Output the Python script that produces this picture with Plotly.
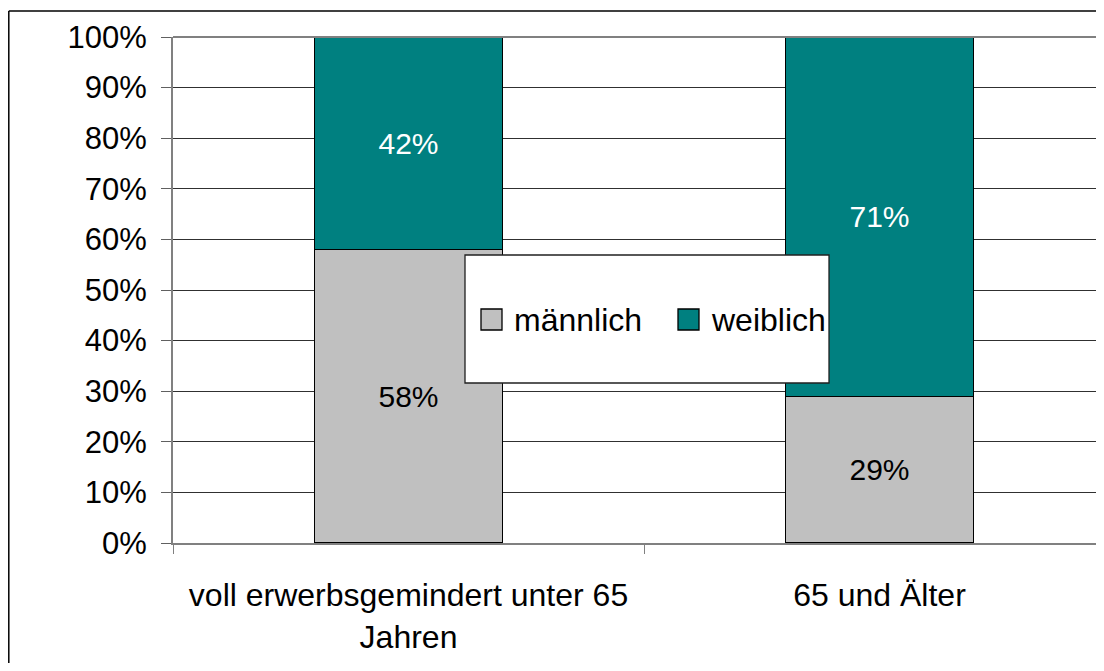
import plotly.graph_objects as go

categories = ["voll erwerbsgemindert unter 65<br>Jahren", "65 und Älter"]
maennlich = [58, 29]
weiblich = [42, 71]
series_names = ["männlich", "weiblich"]
colors = ["#C0C0C0", "#008080"]
y_ticks = [0, 10, 20, 30, 40, 50, 60, 70, 80, 90, 100]

# page body has an 8px margin -> figure drawn 8px right/down
W, H = 1088, 655
L, T = 165, 29
PLOT_BOTTOM = 535
B = H - PLOT_BOTTOM
plot_w = W - L
plot_h = H - T - B
band_px = 471.0
FONT = "Liberation Sans, Arial, sans-serif"


def px(xp):
    return (xp - L) / plot_w


def py(yp):
    return (H - B - yp) / plot_h


fig = go.Figure()
for name, vals, col, tcol in [(series_names[0], maennlich, colors[0], "black"),
                              (series_names[1], weiblich, colors[1], "white")]:
    fig.add_trace(go.Bar(
        x=categories, y=vals, name=name,
        marker=dict(color=col, line=dict(color="black", width=1.3)),
        text=[f"{v}%" for v in vals], textposition="inside",
        insidetextanchor="middle",
        textfont=dict(family=FONT, size=30, color=tcol),
        width=0.4, showlegend=False,
    ))

shapes = [
    dict(type="line", xref="paper", yref="paper", x0=0, x1=1, y0=1, y1=1,
         line=dict(color="#808080", width=2), layer="above"),
    # legend box
    dict(type="rect", xref="paper", yref="paper",
         x0=px(457), x1=px(821), y0=py(375), y1=py(247),
         fillcolor="white", line=dict(color="#202020", width=1.3), layer="above"),
    # outer chart border (left and top edges visible)
    dict(type="line", xref="paper", yref="paper",
         x0=px(0.8), x1=px(0.8), y0=py(H + 20), y1=py(3),
         line=dict(color="black", width=1.5), layer="above"),
    dict(type="line", xref="paper", yref="paper",
         x0=px(0.8), x1=px(W + 20), y0=py(3), y1=py(3),
         line=dict(color="black", width=1.5), layer="above"),
]
annotations = []
sw_x = [473, 670]
tx_x = [504, 701]
for i, name in enumerate(series_names):
    shapes.append(dict(type="rect", xref="paper", yref="paper",
                       x0=px(sw_x[i]), x1=px(sw_x[i] + 21), y0=py(322), y1=py(301),
                       fillcolor=colors[i], line=dict(color="black", width=1.3),
                       layer="above"))
    annotations.append(dict(xref="paper", yref="paper", x=px(tx_x[i]), y=py(312),
                            xanchor="left", yanchor="middle", text=name, showarrow=False,
                            font=dict(family=FONT, size=32, color="black")))

fig.update_layout(
    barmode="stack",
    width=W, height=H,
    margin=dict(l=L, r=0, t=T, b=B, pad=0),
    paper_bgcolor="white", plot_bgcolor="white",
    font=dict(family=FONT, size=30, color="black"),
    showlegend=False,
    xaxis=dict(type="category", range=[-0.5, -0.5 + plot_w / band_px],
               tickson="boundaries", ticks="outside", ticklen=9, tickcolor="#808080",
               showline=True, linecolor="#808080", linewidth=2,
               showgrid=False, ticklabelstandoff=23, automargin=False,
               tickfont=dict(family=FONT, size=32)),
    yaxis=dict(range=[0, 100], tickvals=y_ticks, ticktext=[f"{v}%" for v in y_ticks],
               ticks="outside", ticklen=10, tickcolor="#606060",
               showline=True, linecolor="#808080", linewidth=2,
               showgrid=True, gridcolor="#303030", gridwidth=1, automargin=False,
               ticklabelstandoff=8, tickfont=dict(family=FONT, size=31), zeroline=False),
    shapes=shapes,
    annotations=annotations,
)

fig.write_html("out.html")
